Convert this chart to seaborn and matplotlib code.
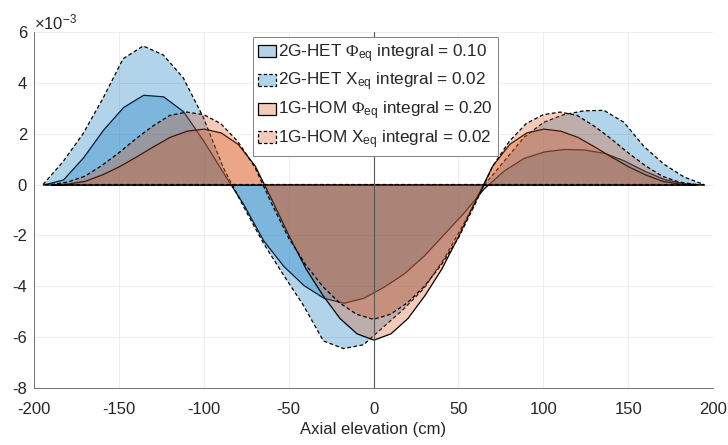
import matplotlib
matplotlib.use("Agg")
import matplotlib.pyplot as plt
import seaborn as sns

# axial nodes of the 2G-HET solution (cm)
x_2g = [-194.7, -182.9, -171.1, -159.3, -147.5, -135.7, -123.9, -112.1, -100.3, -88.5,
        -76.7, -64.9, -53.1, -41.3, -29.5, -17.7, -5.9, 5.9, 17.7, 29.5,
        41.3, 53.1, 64.9, 76.7, 88.5, 100.3, 112.1, 123.9, 135.7, 147.5,
        159.3, 171.1, 182.9, 194.7]

# values in units of 1e-3
phi_2g_het = [0, 0.2, 1.07, 2.16, 3.05, 3.53, 3.47, 2.88, 1.73, 0.46,
              -0.77, -2.2, -3.2, -3.95, -4.45, -4.65, -4.45, -4.02, -3.5, -2.8,
              -1.95, -1.1, -0.15, 0.55, 1.05, 1.3, 1.4, 1.38, 1.25, 0.95,
              0.55, 0.22, 0.05, 0]
chi_2g_het = [0, 0.9, 2.0, 3.4, 4.95, 5.45, 5.1, 4.2, 2.65, 0.67,
              -0.85, -2.3, -3.55, -4.75, -6.15, -6.45, -6.3, -5.6, -4.9, -4.1,
              -2.95, -1.55, -0.05, 0.9, 1.85, 2.45, 2.75, 2.9, 2.92, 2.45,
              1.5, 0.8, 0.3, 0]

# axial nodes of the 1G-HOM solution (cm)
x_1g = [-190, -180, -170, -160, -150, -140, -130, -120, -110, -100,
        -90, -80, -70, -60, -50, -40, -30, -20, -10, 0,
        10, 20, 30, 40, 50, 60, 70, 80, 90, 100,
        110, 120, 130, 140, 150, 160, 170, 180, 190]
phi_1g_hom = [0, 0.04, 0.15, 0.4, 0.72, 1.1, 1.5, 1.88, 2.12, 2.2,
              2.05, 1.6, 0.75, -0.6, -2.0, -3.3, -4.35, -5.25, -5.85, -6.1,
              -5.85, -5.25, -4.35, -3.3, -2.0, -0.6, 0.75, 1.6, 2.05, 2.2,
              2.12, 1.88, 1.5, 1.1, 0.72, 0.4, 0.15, 0.04, 0]
chi_1g_hom = [0, 0.1, 0.33, 0.75, 1.25, 1.8, 2.3, 2.72, 2.85, 2.75,
              2.4, 1.7, 0.7, -0.75, -2.1, -3.15, -4.0, -4.65, -5.1, -5.3,
              -5.1, -4.65, -4.0, -3.15, -2.1, -0.75, 0.7, 1.7, 2.4, 2.75,
              2.85, 2.72, 2.3, 1.8, 1.25, 0.75, 0.33, 0.1, 0]

labels = [
    r"2G-HET $\mathcal{Φ}_{\mathrm{eq}}$ integral = 0.10",
    r"2G-HET X$_{\mathrm{eq}}$ integral = 0.02",
    r"1G-HOM $\mathcal{Φ}_{\mathrm{eq}}$ integral = 0.20",
    r"1G-HOM X$_{\mathrm{eq}}$ integral = 0.02",
]
x_ticks = [-200, -150, -100, -50, 0, 50, 100, 150, 200]
y_ticks = [-8, -6, -4, -2, 0, 2, 4, 6]

BLUE = (0.0, 0.447, 0.741)
ORANGE = (0.85, 0.325, 0.098)
DASH = (0, (3, 2))

sns.set_theme(style="whitegrid")
plt.rcParams["font.family"] = ["Liberation Sans", "DejaVu Sans"]
plt.rcParams["axes.unicode_minus"] = False
plt.rcParams["mathtext.fontset"] = "custom"
plt.rcParams["mathtext.rm"] = "Liberation Sans"
plt.rcParams["mathtext.it"] = "Liberation Sans:italic"
plt.rcParams["mathtext.bf"] = "Liberation Sans:bold"
plt.rcParams["mathtext.cal"] = "Liberation Serif"

fig = plt.figure(figsize=(7.28, 4.45), dpi=100)
ax = fig.add_axes([0.0467, 0.1281, 0.9327, 0.80])

series = [
    (x_2g, phi_2g_het, BLUE, "-"),
    (x_2g, chi_2g_het, BLUE, DASH),
    (x_1g, phi_1g_hom, ORANGE, "-"),
    (x_1g, chi_1g_hom, ORANGE, DASH),
]
for (x, y, col, ls), lab in zip(series, labels):
    ax.fill_between(x, y, 0, facecolor=(*col, 0.3), edgecolor="black",
                    linestyle=ls, linewidth=0.9, label=lab)

ax.axvline(0, color="0.35", linewidth=0.8, zorder=5)

ax.set_xlim(-200, 200)
ax.set_ylim(-8, 6)
ax.set_xticks(x_ticks)
ax.set_yticks(y_ticks)
ax.grid(True, color="0.92", linewidth=0.6)
ax.set_axisbelow(True)
ax.set_facecolor("white")
for side in ["top", "right"]:
    ax.spines[side].set_visible(False)
for side in ["left", "bottom"]:
    ax.spines[side].set_color("0.45")
    ax.spines[side].set_linewidth(0.7)
ax.tick_params(direction="in", length=4, width=0.6, color="0.45",
               labelcolor="0.15", labelsize=12)
ax.tick_params(axis="x", pad=10)
ax.tick_params(axis="y", pad=5)
ax.set_xlabel("Axial elevation (cm)", fontsize=12, color="0.15", labelpad=4)
ax.text(0, 1.0, r"$\times10^{-3}$", transform=ax.transAxes, ha="left",
        va="bottom", fontsize=12, color="0.15")

leg = ax.legend(loc="upper left", bbox_to_anchor=(0.3225, 0.986), frameon=True,
                fancybox=False, edgecolor="0.5", facecolor="white", framealpha=1,
                fontsize=12.3, handlelength=1.05, handleheight=0.7,
                handletextpad=0.1, labelspacing=0.36, borderpad=0.3,
                borderaxespad=0)
leg.get_frame().set_linewidth(0.7)

fig.savefig("out.png", dpi=100)
